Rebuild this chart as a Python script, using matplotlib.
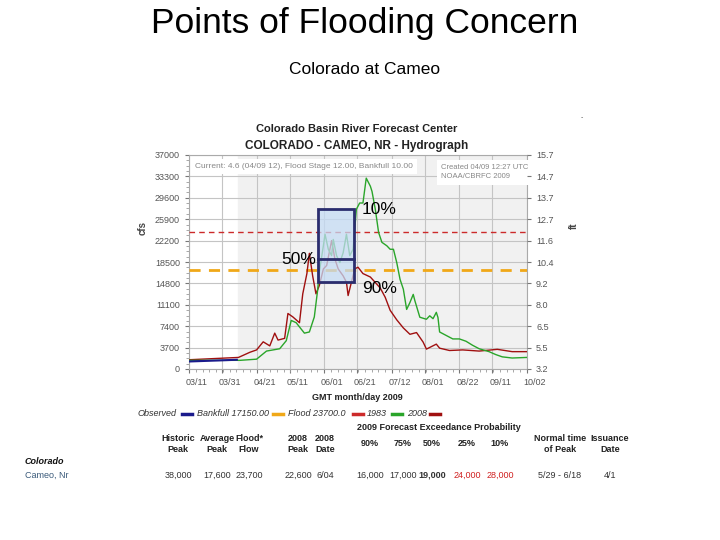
import matplotlib.pyplot as plt
import numpy as np
from matplotlib.patches import Rectangle
from matplotlib.lines import Line2D
from matplotlib.transforms import ScaledTranslation

plt.rcParams['font.family'] = ['Liberation Sans', 'DejaVu Sans']

# ---- data (x = days since 03/11/2009) ----
tick_days = [0, 20, 41, 61, 82, 102, 123, 143, 164, 184, 205]
tick_dates = ['03/11', '03/31', '04/21', '05/11', '06/01', '06/21',
              '07/12', '08/01', '08/22', '09/11', '10/02']
flow_ticks = [0, 3700, 7400, 11100, 14800, 18500, 22200, 25900, 29600, 33300, 37000]
stage_labels = ['3.2', '5.5', '6.5', '8.0', '9.2', '10.4', '11.6', '12.7', '13.7', '14.7', '15.7']

days_1983 = [0, 15, 31, 41, 47, 55, 59, 62, 65, 70, 73, 76, 78, 79, 81.5, 82.5,
             84.5, 86.5, 87.5, 89.5, 91.5, 93.5, 95.5, 97.5, 99.5, 100.5, 101.5,
             103.5, 105.5, 107.5, 110, 111, 113, 115, 117, 120, 122, 124, 126,
             128, 130, 132, 134, 136, 137, 140, 144, 146, 148, 150, 151, 152,
             156, 160, 164, 168, 172, 176, 182, 186, 190, 196, 205]
flow_1983 = [1500, 1500, 1500, 1700, 3100, 3500, 4900, 8400, 8000, 6200, 6400,
             9000, 13600, 16700, 21300, 23300, 20700, 19600, 22400, 19600, 18400,
             20100, 23300, 19600, 20700, 24100, 27600, 28700, 28700, 33000, 31600,
             30700, 27600, 23600, 21900, 21300, 20700, 20700, 18400, 15500, 13800,
             10300, 11500, 12900, 11800, 8950, 8600, 9200, 8700, 9800, 8900, 6400,
             5800, 5200, 5200, 4800, 4100, 3500, 3000, 2500, 2100, 1900, 2000]

days_2008 = [0, 15, 30, 37, 41, 45, 49, 52, 54, 58, 60, 63, 67, 69, 71.5, 73,
             75, 77, 79, 81.5, 83.5, 86.5, 88.5, 90.5, 93.5, 95.5, 96.5, 98.5,
             100.5, 102.5, 105.5, 110, 116, 119, 122, 126, 130, 134, 138, 142,
             144, 150, 152, 158, 166, 176, 187, 196, 205]
flow_2008 = [1600, 1800, 2000, 2900, 3300, 4700, 4000, 6200, 5000, 5300, 9600,
             9000, 8000, 13000, 16500, 20000, 16100, 13000, 14400, 17300, 17900,
             22200, 19000, 17300, 16100, 15000, 12700, 15000, 17300, 17600, 16500,
             15900, 14000, 12400, 10150, 8500, 7100, 6000, 6300, 4650, 3440, 4300,
             3600, 3200, 3300, 3100, 3400, 3000, 3000]

days_obs = [0, 10, 20, 29]
flow_obs = [1300, 1400, 1500, 1600]

bankfull = 17150
flood = 23700

# forecast peak window (5/29 - 6/18) and exceedance levels read from the box
window = [78, 100]
box_levels = [15000, 19000, 27700]

# ---- figure ----
W, H = 720, 540
fig = plt.figure(figsize=(7.2, 5.4), dpi=100)


def fx(x):
    return x / W


def fy(y):
    return 1 - y / H


ax = fig.add_axes([fx(189), fy(369), (527 - 189) / W, (369 - 155) / H])
ax.set_xlim(0, 205)
ax.set_ylim(0, 37000)
ax.axvspan(29.7, 205, color='#f1f1f1', zorder=0)
ax.set_xticks(tick_days)
ax.set_xticklabels(tick_dates)
ax.set_xticks(np.arange(0, 205, 4.1), minor=True)
ax.set_yticks(flow_ticks)
ax.set_yticklabels([str(v) for v in flow_ticks])
ax.set_yticks(np.arange(0, 37000, 925), minor=True)
ax.grid(True, color='#c4c4c4', lw=0.8, zorder=1)
ax.set_axisbelow(True)
ax.tick_params(labelsize=6.5, colors='#777', labelcolor='#555', length=3)
ax.tick_params(which='minor', length=2, colors='#999')
for lab in ax.get_xticklabels():
    lab.set_transform(lab.get_transform() + ScaledTranslation(8 / 100, 0, fig.dpi_scale_trans))
for s in ax.spines.values():
    s.set_color('#aaa')

ax2 = ax.twinx()
ax2.set_ylim(0, 37000)
ax2.set_yticks(flow_ticks)
ax2.set_yticklabels(stage_labels)
ax2.tick_params(labelsize=6.5, colors='#777', labelcolor='#555', length=3)
for s in ax2.spines.values():
    s.set_visible(False)

ax.axhline(flood, color='#cc2a2a', lw=1, ls=(0, (4, 3)), zorder=3)
ax.axhline(bankfull, color='#f0a818', lw=2, ls=(0, (4, 3)), zorder=3)
ax.plot(days_2008, flow_2008, color='#a01010', lw=1, zorder=4)
ax.plot(days_1983, flow_1983, color='#2aa52a', lw=1, zorder=4)
ax.plot(days_obs, flow_obs, color='#1a1a8c', lw=1.5, zorder=5)

ax.add_patch(Rectangle((window[0], box_levels[0]), window[1] - window[0],
                       box_levels[2] - box_levels[0], facecolor='#c5dcf5',
                       alpha=0.75, edgecolor='none', zorder=6))
ax.add_patch(Rectangle((window[0], box_levels[0]), window[1] - window[0],
                       box_levels[2] - box_levels[0], facecolor='none',
                       edgecolor='#2b2d6e', lw=2, zorder=7))
ax.plot(window, [box_levels[1]] * 2, color='#2b2d6e', lw=2, zorder=7)
ax.text(105, 27500, '10%', fontsize=12.5, va='center', ha='left', zorder=8)
ax.text(77, 19000, '50%', fontsize=12.5, va='center', ha='right', zorder=8)
ax.text(105, 13900, '90%', fontsize=12.5, va='center', ha='left', zorder=8)

# info boxes inside the plot
ax.text(0.018, 0.945, 'Current: 4.6 (04/09 12), Flood Stage 12.00, Bankfull 10.00',
        transform=ax.transAxes, fontsize=6, color='#888', va='center', zorder=9,
        bbox=dict(facecolor='white', edgecolor='none', pad=3))
ax.text(0.745, 0.92, 'Created 04/09 12:27 UTC\nNOAA/CBRFC 2009',
        transform=ax.transAxes, fontsize=5.5, color='#888', va='center', zorder=9,
        linespacing=1.5, bbox=dict(facecolor='white', edgecolor='none', pad=3))

# ---- slide text ----
fig.text(fx(365), fy(23), 'Points of Flooding Concern', fontsize=25.5, ha='center', va='center')
fig.text(fx(365), fy(70), 'Colorado at Cameo', fontsize=12.5, ha='center', va='center')
fig.text(fx(582), fy(118), '-', fontsize=5, ha='center', va='center', color='#555')

fig.text(fx(357), fy(129), 'Colorado Basin River Forecast Center', fontsize=8,
         weight='bold', ha='center', va='center', color='#222')
fig.text(fx(357), fy(146), 'COLORADO - CAMEO, NR - Hydrograph', fontsize=8.5,
         weight='bold', ha='center', va='center', color='#222')
fig.text(fx(143), fy(228), 'cfs', fontsize=7, weight='bold', rotation=90,
         ha='center', va='center', color='#444')
fig.text(fx(574), fy(226), 'ft', fontsize=7, weight='bold', rotation=90,
         ha='center', va='center', color='#444')
fig.text(fx(357), fy(398), 'GMT month/day 2009', fontsize=6.5, weight='bold',
         ha='center', va='center', color='#222')

# legend row
legend_items = [('Observed', '#1a1a8c', 138, 182),
                ('Bankfull 17150.00', '#f0a818', 197, 273),
                ('Flood 23700.0', '#cc2a2a', 288, 353),
                ('1983', '#2aa52a', 367, 392),
                ('2008', '#a01010', 407, 430)]
for label, col, xt, xs in legend_items:
    fig.text(fx(xt), fy(414), label, fontsize=6.5, style='italic', color='#333',
             ha='left', va='center')
    fig.add_artist(Line2D([fx(xs), fx(xs + 10)], [fy(414)] * 2, color=col, lw=2.5,
                          transform=fig.transFigure))

fig.text(fx(357), fy(427), '2009 Forecast Exceedance Probability', fontsize=6.5,
         weight='bold', ha='left', va='center', color='#222')

# table
col_x = [178, 217, 249, 298, 325, 370, 403, 432, 467, 500, 560, 610]
headers = ['Historic\nPeak', 'Average\nPeak', 'Flood*\nFlow', '2008\nPeak', '2008\nDate',
           '90%', '75%', '50%', '25%', '10%', 'Normal time\nof Peak', 'Issuance\nDate']
values = ['38,000', '17,600', '23,700', '22,600', '6/04', '16,000', '17,000',
          '19,000', '24,000', '28,000', '5/29 - 6/18', '4/1']
value_colors = ['#333'] * 8 + ['#d02020', '#d02020'] + ['#333', '#333']
for xc, hd, val, col in zip(col_x, headers, values, value_colors):
    fig.text(fx(xc), fy(444), hd, fontsize=6.5, weight='bold', ha='center',
             va='center', color='#222', linespacing=1.2)
    fig.text(fx(xc), fy(475), val, fontsize=6.5, ha='center', va='center',
             color=col, weight='bold' if val == '19,000' else 'normal')

fig.text(fx(25), fy(462), 'Colorado', fontsize=6.5, weight='bold', style='italic',
         ha='left', va='center', color='#111')
fig.text(fx(25), fy(475), 'Cameo, Nr', fontsize=6.5, ha='left', va='center',
         color='#3a5a7a')

fig.savefig('out.png', dpi=100)
